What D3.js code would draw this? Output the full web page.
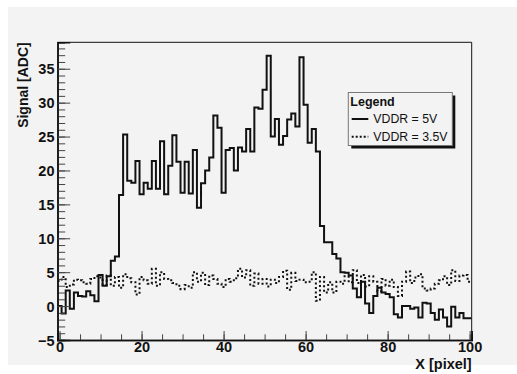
<!DOCTYPE html>
<html>
<head>
<meta charset="utf-8">
<script src="https://d3js.org/d3.v7.min.js"></script>
<style>
  body { margin: 0; background: #fff; }
  svg text { font-family: "Liberation Sans", Arial, Helvetica, sans-serif; }
</style>
</head>
<body>
<svg id="chart" width="517" height="374"></svg>
<script>
// Bin centres 0..100, one value per bin
const bins = d3.range(0, 101);

const vddr5 = [
   0.0, -1.1,  2.3, -0.4,  2.0,  1.5,  1.4,  2.2,  1.6,  0.7,
   4.6,  3.0,  4.4,  6.7,  7.3, 16.4, 25.3, 18.5, 18.2, 21.4,
  16.5, 18.2, 17.3, 21.4, 17.3, 24.3, 16.5, 20.7, 25.2, 21.3,
  16.7, 21.3, 16.6, 23.0, 14.5, 18.1, 20.0, 21.9, 28.1, 26.3,
  16.7, 23.0, 23.3, 20.0, 23.4, 22.8, 26.1, 22.8, 29.3, 29.1,
  31.9, 36.9, 25.0, 27.6, 23.8, 25.1, 27.5, 28.4, 26.5, 36.7,
  29.7, 24.1, 26.1, 22.8, 11.8,  9.4,  9.4,  7.7,  7.0,  5.0,
   4.9,  4.5,  2.6,  1.3,  3.6,  0.4, -1.0,  1.5,  2.7,  2.0,
   1.8,  1.3, -1.2, -1.7,  0.0,  0.0, -0.4, -0.2, -1.7,  0.5,
   0.4, -1.0, -2.0, -0.5, -1.7, -3.0, -0.1, -1.7, -1.0, -1.8,
  -1.8
];

const vddr35 = [
  3.7, 4.3, 2.8, 3.2, 3.9, 3.8, 3.5, 3.3, 4.0, 4.4,
  4.2, 3.1, 4.5, 3.0, 4.3, 2.7, 4.7, 4.1, 3.5, 1.7,
  4.3, 3.8, 3.3, 5.5, 3.0, 5.0, 4.0, 3.8, 3.4, 3.0,
  2.5, 3.1, 2.7, 5.0, 3.6, 4.9, 3.1, 4.5, 4.0, 3.3,
  2.8, 4.0, 3.6, 4.1, 5.5, 4.2, 5.3, 3.0, 4.8, 3.3,
  4.0, 2.9, 3.9, 3.4, 4.3, 5.2, 2.4, 4.9, 3.7, 3.9,
  3.5, 3.6, 5.0, 0.8, 4.3, 2.0, 3.5, 2.0, 3.6, 3.3,
  4.4, 3.5, 5.3, 3.4, 4.6, 2.9, 4.4, 3.6, 2.2, 4.0,
  3.0, 3.9, 2.8, 1.5, 3.6, 5.1, 3.4, 4.2, 4.7, 2.6,
  2.3, 2.6, 3.3, 3.8, 4.4, 3.1, 5.3, 3.7, 4.5, 4.6,
  3.6
];

const xTicks = [0, 20, 40, 60, 80, 100];
const yTicks = [-5, 0, 5, 10, 15, 20, 25, 30, 35];
const seriesNames = ["VDDR = 5V", "VDDR = 3.5V"];

/**************************************************************************************************/
const svg = d3.select("#chart");
const frame = { left: 57.5, right: 471.7, top: 42.3, bottom: 340 };

// canvas panel
svg.append("rect")
    .attr("x", 8).attr("y", 7)
    .attr("width", 509).attr("height", 358)
    .attr("fill", "#f3f3f3");

const x = d3.scaleLinear().domain([-0.5, 100.5]).range([frame.left, frame.right]);
const y = d3.scaleLinear().domain([-5, 38.9]).range([frame.bottom, frame.top]);

svg.append("clipPath").attr("id", "clip")
  .append("rect")
    .attr("x", frame.left).attr("y", frame.top)
    .attr("width", frame.right - frame.left)
    .attr("height", frame.bottom - frame.top);

// histogram outline as a step line over the bin edges
function stepPoints(values) {
    const pts = values.map((v, i) => [bins[i] - 0.5, v]);
    pts.push([bins[bins.length - 1] + 0.5, values[values.length - 1]]);
    return pts;
}
const step = d3.line()
    .x(d => x(d[0]))
    .y(d => y(d[1]))
    .curve(d3.curveStepAfter);

const plot = svg.append("g").attr("clip-path", "url(#clip)");

plot.append("path")
    .attr("d", step(stepPoints(vddr35)))
    .attr("fill", "none")
    .attr("stroke", "#111")
    .attr("stroke-width", 2)
    .attr("stroke-dasharray", "2,2.5");

plot.append("path")
    .attr("d", step(stepPoints(vddr5)))
    .attr("fill", "none")
    .attr("stroke", "#111")
    .attr("stroke-width", 2);

// frame top / right
svg.append("path")
    .attr("d", `M${frame.left},${frame.top}H${frame.right}V${frame.bottom}`)
    .attr("fill", "none")
    .attr("stroke", "#111")
    .attr("stroke-width", 1);

// axes: ticks point inward like ROOT
const yMinor = svg.append("g")
    .attr("transform", `translate(${frame.left},0)`)
    .call(d3.axisLeft(y).tickValues(d3.range(-5, 39, 1)).tickSize(-7.7).tickFormat(""));
const yAxis = svg.append("g")
    .attr("transform", `translate(${frame.left},0)`)
    .call(d3.axisLeft(y).tickValues(yTicks).tickSize(-12.7).tickPadding(3));

const xMinor = svg.append("g")
    .attr("transform", `translate(0,${frame.bottom})`)
    .call(d3.axisBottom(x).tickValues(d3.range(0, 101, 5)).tickSize(-5.7).tickFormat(""));
const xAxis = svg.append("g")
    .attr("transform", `translate(0,${frame.bottom})`)
    .call(d3.axisBottom(x).tickValues(xTicks).tickSize(-9).tickPadding(2));

[yMinor, yAxis, xMinor, xAxis].forEach(g => {
    g.selectAll(".domain").attr("stroke", "#111").attr("stroke-width", 1.5);
    g.selectAll(".tick line").attr("stroke", "#444").attr("stroke-width", 1);
});
[yAxis, xAxis].forEach(g => {
    g.selectAll("text")
        .attr("font-size", 14.5)
        .attr("font-weight", "bold")
        .attr("fill", "#111");
});
yAxis.selectAll("text").attr("dy", "0.36em");

// axis titles
svg.append("text")
    .attr("x", frame.right).attr("y", 368.5)
    .attr("text-anchor", "end")
    .attr("font-size", 14.5).attr("font-weight", "bold").attr("fill", "#111")
    .text("X [pixel]");

svg.append("text")
    .attr("transform", `translate(28,${frame.top}) rotate(-90)`)
    .attr("text-anchor", "end")
    .attr("font-size", 14).attr("font-weight", "bold").attr("fill", "#111")
    .text("Signal [ADC]");

// legend
const lg = svg.append("g");
const box = { x: 348.3, y: 92.5, w: 104, h: 53 };
lg.append("rect")
    .attr("x", box.x + 3).attr("y", box.y + 3)
    .attr("width", box.w).attr("height", box.h)
    .attr("fill", "#111");
lg.append("rect")
    .attr("x", box.x).attr("y", box.y)
    .attr("width", box.w).attr("height", box.h)
    .attr("fill", "#f3f3f3")
    .attr("stroke", "#777").attr("stroke-width", 1);
lg.append("text")
    .attr("x", box.x + 2).attr("y", box.y + 13.5)
    .attr("font-size", 12.5).attr("font-weight", "bold").attr("fill", "#111")
    .text("Legend");

const rows = lg.selectAll("g.row")
    .data(seriesNames)
    .join("g")
      .attr("class", "row")
      .attr("transform", (d, i) => `translate(${box.x},${box.y + 26.5 + i * 17.7})`);
rows.append("line")
    .attr("x1", 3.4).attr("x2", 20)
    .attr("stroke", "#111").attr("stroke-width", 2)
    .attr("stroke-dasharray", (d, i) => i === 1 ? "2,2" : null);
rows.append("text")
    .attr("x", 25).attr("dy", "0.36em")
    .attr("font-size", 12.3).attr("fill", "#111")
    .text(d => d);
</script>
</body>
</html>
